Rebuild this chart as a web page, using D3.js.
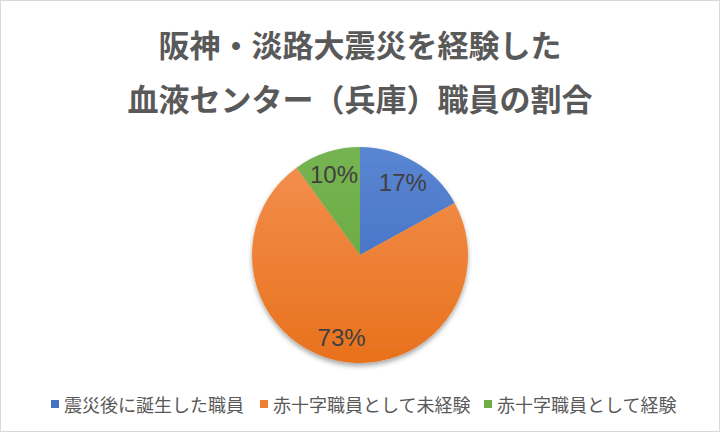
<!DOCTYPE html>
<html>
<head>
<meta charset="utf-8">
<script src="https://cdn.jsdelivr.net/npm/d3@7"></script>
<style>
  html, body { margin: 0; padding: 0; background: #fff; }
  svg { display: block; }
</style>
</head>
<body>
<svg id="chart" width="720" height="432"></svg>
<script>
const titleLines = ["阪神・淡路大震災を経験した", "血液センター（兵庫）職員の割合"];
const categories = ["震災後に誕生した職員", "赤十字職員として未経験", "赤十字職員として経験"];
const values = [17, 73, 10];
const baseColors = ["#4472C4", "#ED7D31", "#70AD47"];
const colorsTop = ["#5A86D2", "#F39151", "#76B452"];
const colorsBottom = ["#3A66BE", "#E8711C", "#65A43C"];

const W = 720, H = 432;
const svg = d3.select("#chart");
const defs = svg.append("defs");

svg.append("rect").attr("x", 0.5).attr("y", 0.5).attr("width", W - 1).attr("height", H - 1)
  .attr("fill", "#fff").attr("stroke", "#d9d9d9").attr("stroke-width", 1);

const cx = 360, cy = 255, r = 108;

const shadow = defs.append("filter").attr("id", "shadow")
  .attr("x", "-20%").attr("y", "-20%").attr("width", "140%").attr("height", "140%");
shadow.append("feGaussianBlur").attr("in", "SourceAlpha").attr("stdDeviation", 2.5).attr("result", "b");
shadow.append("feOffset").attr("in", "b").attr("dx", 0).attr("dy", 3).attr("result", "o");
shadow.append("feComponentTransfer").attr("in", "o").attr("result", "s")
  .append("feFuncA").attr("type", "linear").attr("slope", 0.35);
const merge = shadow.append("feMerge");
merge.append("feMergeNode").attr("in", "s");
merge.append("feMergeNode").attr("in", "SourceGraphic");

categories.forEach((c, i) => {
  const g = defs.append("linearGradient").attr("id", "grad" + i)
    .attr("gradientUnits", "userSpaceOnUse")
    .attr("x1", 0).attr("y1", -r).attr("x2", 0).attr("y2", r);
  g.append("stop").attr("offset", "0%").attr("stop-color", colorsTop[i]);
  g.append("stop").attr("offset", "100%").attr("stop-color", colorsBottom[i]);
});

// Title
svg.selectAll("text.title").data(titleLines).join("text")
  .attr("class", "title")
  .attr("x", W / 2)
  .attr("y", (d, i) => 43 + i * 54)
  .attr("text-anchor", "middle")
  .attr("dominant-baseline", "central")
  .attr("font-family", "'Noto Sans CJK JP', sans-serif")
  .attr("font-weight", "bold")
  .attr("font-size", 31)
  .attr("fill", "#595959")
  .text(d => d);

// Pie
const pie = d3.pie().sort(null).value(d => d.v);
const data = pie(categories.map((c, i) => ({ c, v: values[i], i })));
const arc = d3.arc().innerRadius(0).outerRadius(r);
const labelArc = d3.arc().innerRadius(r * 0.78).outerRadius(r * 0.78);

const gPie = svg.append("g").attr("transform", `translate(${cx},${cy})`);
gPie.append("g").attr("filter", "url(#shadow)")
  .selectAll("path").data(data).join("path")
  .attr("d", arc)
  .attr("fill", d => `url(#grad${d.data.i})`);

gPie.selectAll("text").data(data).join("text")
  .attr("transform", d => `translate(${labelArc.centroid(d)})`)
  .attr("text-anchor", "middle")
  .attr("dominant-baseline", "central")
  .attr("font-family", "'Liberation Sans', Arial, sans-serif")
  .attr("font-size", 24)
  .attr("fill", "#404040")
  .text(d => d.data.v + "%");

// Legend
const legendX = [51, 260, 484];
const lg = svg.append("g");
const items = lg.selectAll("g").data(categories).join("g")
  .attr("transform", (d, i) => `translate(${legendX[i]},404)`);
items.append("rect").attr("x", 0).attr("y", -4).attr("width", 8).attr("height", 8)
  .attr("fill", (d, i) => baseColors[i]);
items.append("text").attr("x", 13).attr("y", 0)
  .attr("dominant-baseline", "central")
  .attr("font-family", "'Noto Sans CJK JP', sans-serif")
  .attr("font-size", 18)
  .attr("fill", "#595959")
  .text(d => d);
</script>
</body>
</html>
